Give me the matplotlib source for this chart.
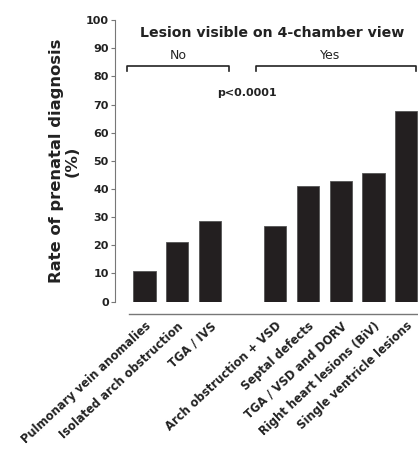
import matplotlib.pyplot as plt

# --- Data ---
categories = [
    "Pulmonary vein anomalies",
    "Isolated arch obstruction",
    "TGA / IVS",
    "Arch obstruction + VSD",
    "Septal defects",
    "TGA / VSD and DORV",
    "Right heart lesions (BiV)",
    "Single ventricle lesions",
]
positions = [0, 1, 2, 4, 5, 6, 7, 8]
rates = [11.0, 21.2, 28.8, 27.0, 41.0, 42.7, 45.8, 67.7]

BAR_COLOR = "#231f20"
AXIS_COLOR = "#777777"
TEXT_COLOR = "#222222"

fig = plt.figure(figsize=(4.18, 4.5), dpi=100)
ax = fig.add_axes([0.275, 0.330, 0.725, 0.625])

ax.bar(positions, rates, width=0.68, color=BAR_COLOR, edgecolor="#555555", linewidth=0.6)

# spines first: moving a spine resets its ticks
for s in ["top", "right"]:
    ax.spines[s].set_visible(False)
ax.spines["left"].set_color(AXIS_COLOR)
ax.spines["left"].set_linewidth(0.8)
ax.spines["bottom"].set_color(AXIS_COLOR)
ax.spines["bottom"].set_linewidth(1.0)
ax.spines["bottom"].set_position(("outward", 9))
ax.spines["bottom"].set_bounds(-0.47, 8.36)

ax.set_xlim(-0.9, 8.36)
ax.set_ylim(0, 100)
ax.set_yticks(range(0, 101, 10))
ax.tick_params(axis="y", length=3, width=0.8, color=AXIS_COLOR, pad=1.5,
               labelsize=8, labelcolor=TEXT_COLOR)
for lab in ax.get_yticklabels():
    lab.set_fontweight("bold")

ax.set_xticks(positions)
ax.tick_params(axis="x", length=0, pad=4)
ax.set_xticklabels(categories, rotation=43, ha="right", rotation_mode="anchor",
                   fontsize=8.3, fontweight="bold", color=TEXT_COLOR)

ax.set_ylabel("Rate of prenatal diagnosis\n(%)", fontsize=11.8, fontweight="bold",
              color=TEXT_COLOR, linespacing=1.05)
ax.yaxis.set_label_coords(-0.118, 0.5)

# brackets and annotations
ax.plot([-0.53, -0.53, 2.58, 2.58], [81.8, 83.8, 83.8, 81.8], color=TEXT_COLOR,
        linewidth=1.2, clip_on=False)
ax.plot([3.40, 3.40, 8.29, 8.29], [81.8, 83.8, 83.8, 81.8], color=TEXT_COLOR,
        linewidth=1.2, clip_on=False)
ax.text(1.02, 87.3, "No", ha="center", va="center", fontsize=9, color=TEXT_COLOR)
ax.text(5.66, 87.3, "Yes", ha="center", va="center", fontsize=9, color=TEXT_COLOR)
ax.text(3.89, 95.5, "Lesion visible on 4-chamber view", ha="center", va="center",
        fontsize=10.2, fontweight="bold", color=TEXT_COLOR)
ax.text(3.13, 74.0, "p<0.0001", ha="center", va="center", fontsize=8,
        fontweight="bold", color=TEXT_COLOR)

fig.savefig("out.png", dpi=100)
